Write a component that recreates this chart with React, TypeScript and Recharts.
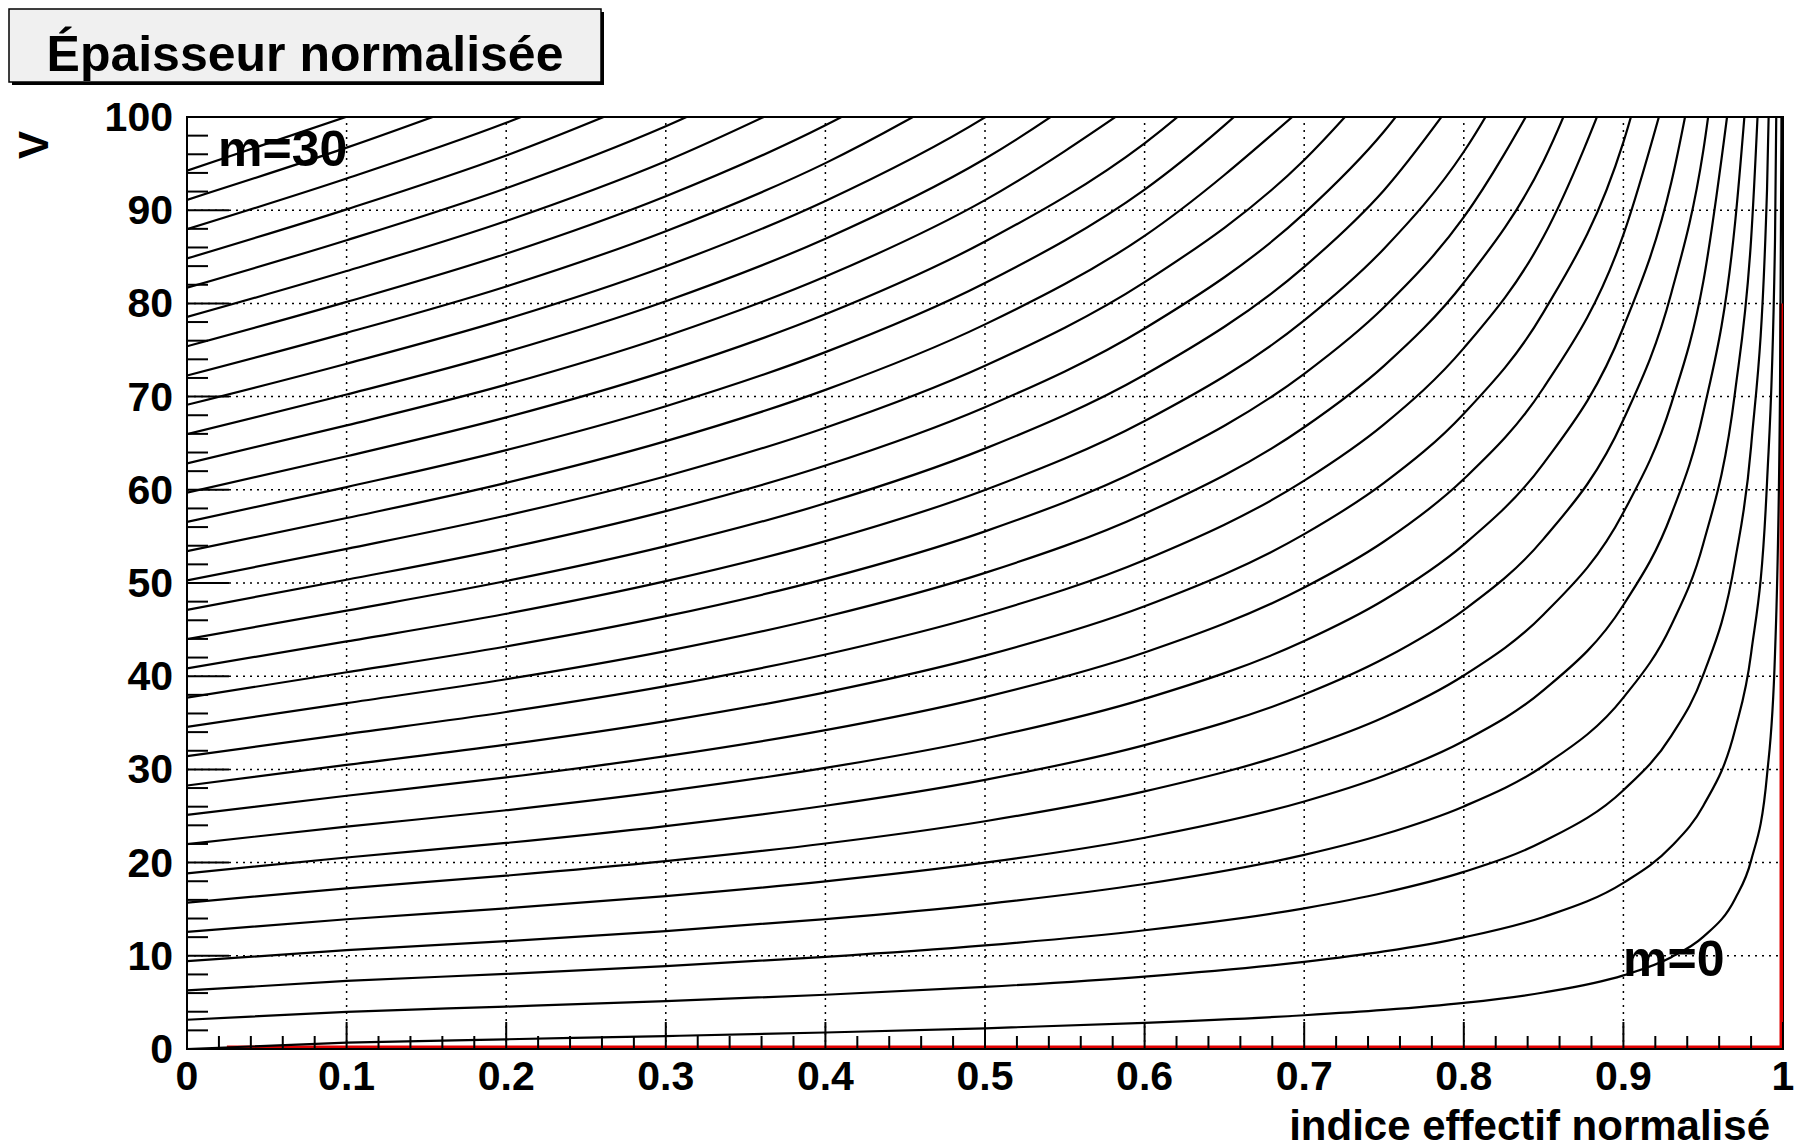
import React from "react";
import { LineChart, Line, XAxis, YAxis, ReferenceLine, ReferenceArea } from "recharts";

// normalized effective index b (x) sampled for every mode curve
const B_VALUES = [0, 0.1, 0.2, 0.3, 0.4, 0.5, 0.6, 0.7, 0.75, 0.8, 0.85, 0.9, 0.93, 0.95, 0.97, 0.98, 0.99, 0.995, 0.998, 0.999, 0.9995];

// normalized thickness V for modes m = 0 .. 30, read along B_VALUES (rows stop once past the top)
const MODE_V: number[][] = [
  [0, 0.68, 1.04, 1.39, 1.77, 2.22, 2.8, 3.62, 4.19, 4.95, 6.06, 7.9, 9.85, 12.03, 16.13, 20.21, 29.41, 42.43, 68.25, 97.35, 138.5],
  [3.14, 3.99, 4.55, 5.14, 5.82, 6.66, 7.77, 9.35, 10.47, 11.98, 14.17, 17.83, 21.72, 26.08, 34.27, 42.42, 60.83, 86.86, 138.49],
  [6.28, 7.3, 8.06, 8.9, 9.88, 11.11, 12.74, 15.09, 16.76, 19.0, 22.28, 27.77, 33.6, 40.13, 52.4, 64.64, 92.24, 131.29],
  [9.42, 10.61, 11.57, 12.65, 13.94, 15.55, 17.7, 20.83, 23.04, 26.03, 30.39, 37.7, 45.47, 54.18, 70.54, 86.85, 123.66],
  [12.57, 13.92, 15.09, 16.41, 17.99, 19.99, 22.67, 26.56, 29.32, 33.05, 38.5, 47.64, 57.35, 68.23, 88.68, 109.07],
  [15.71, 17.24, 18.6, 20.16, 22.05, 24.44, 27.64, 32.3, 35.6, 40.08, 46.62, 57.57, 69.22, 82.28, 106.82],
  [18.85, 20.55, 22.11, 23.92, 26.1, 28.88, 32.61, 38.03, 41.89, 47.1, 54.73, 67.51, 81.09, 96.33, 124.96],
  [21.99, 23.86, 25.62, 27.67, 30.16, 33.32, 37.57, 43.77, 48.17, 54.12, 62.84, 77.44, 92.97, 110.38],
  [25.13, 27.17, 29.14, 31.42, 34.21, 37.76, 42.54, 49.51, 54.45, 61.15, 70.95, 87.38, 104.84],
  [28.27, 30.48, 32.65, 35.18, 38.27, 42.21, 47.51, 55.24, 60.74, 68.17, 79.06, 97.31, 116.72],
  [31.42, 33.79, 36.16, 38.93, 42.33, 46.65, 52.47, 60.98, 67.02, 75.2, 87.17, 107.25],
  [34.56, 37.11, 39.67, 42.69, 46.38, 51.09, 57.44, 66.71, 73.3, 82.22, 95.29, 117.18],
  [37.7, 40.42, 43.19, 46.44, 50.44, 55.54, 62.41, 72.45, 79.59, 89.25, 103.4],
  [40.84, 43.73, 46.7, 50.2, 54.49, 59.98, 67.38, 78.18, 85.87, 96.27, 111.51],
  [43.98, 47.04, 50.21, 53.95, 58.55, 64.42, 72.34, 83.92, 92.15, 103.3],
  [47.12, 50.35, 53.72, 57.71, 62.6, 68.86, 77.31, 89.66, 98.44, 110.32],
  [50.27, 53.66, 57.24, 61.46, 66.66, 73.31, 82.28, 95.39, 104.72],
  [53.41, 56.97, 60.75, 65.22, 70.72, 77.75, 87.25, 101.13],
  [56.55, 60.29, 64.26, 68.97, 74.77, 82.19, 92.21, 106.86],
  [59.69, 63.6, 67.77, 72.73, 78.83, 86.64, 97.18, 112.6],
  [62.83, 66.91, 71.28, 76.48, 82.88, 91.08, 102.15],
  [65.97, 70.22, 74.8, 80.24, 86.94, 95.52, 107.12],
  [69.12, 73.53, 78.31, 83.99, 90.99, 99.96, 112.08],
  [72.26, 76.84, 81.82, 87.75, 95.05, 104.41],
  [75.4, 80.16, 85.33, 91.5, 99.11, 108.85],
  [78.54, 83.47, 88.85, 95.26, 103.16],
  [81.68, 86.78, 92.36, 99.01, 107.22],
  [84.82, 90.09, 95.87, 102.77],
  [87.96, 93.4, 99.38, 106.52],
  [91.11, 96.71, 102.9],
  [94.25, 100.03],
];

// red reference trace along the bottom and right edges
const RED_B = [0.025, 1, 1];
const RED_V = [0, 0, 80];

const X_MAJOR = [0, 0.1, 0.2, 0.3, 0.4, 0.5, 0.6, 0.7, 0.8, 0.9, 1];
const X_LABELS = ["0", "0.1", "0.2", "0.3", "0.4", "0.5", "0.6", "0.7", "0.8", "0.9", "1"];
const Y_MAJOR = [0, 10, 20, 30, 40, 50, 60, 70, 80, 90, 100];
const Y_LABELS = ["0", "10", "20", "30", "40", "50", "60", "70", "80", "90", "100"];

const W = 1801;
const H = 1148;
const PLOT_LEFT = 187;
const PLOT_TOP = 117;
const PLOT_RIGHT = 1783;
const PLOT_BOTTOM = 1049;
const FONT = "'Liberation Sans', Arial, Helvetica, sans-serif";

const xTicks = Array.from({ length: 51 }, (_, i) => i / 50);
const yTicks = Array.from({ length: 51 }, (_, i) => i * 2);

const curves = MODE_V.map((row) => row.map((v, i) => ({ b: B_VALUES[i], v })));
const redLine = RED_B.map((b, i) => ({ b, v: RED_V[i] }));

function XTick(props: any) {
  const { x, payload } = props;
  const val = payload.value as number;
  const idx = X_MAJOR.findIndex((m) => Math.abs(m - val) < 1e-6);
  const len = idx >= 0 ? 27 : 13;
  return (
    <g>
      <line x1={x} x2={x} y1={PLOT_BOTTOM} y2={PLOT_BOTTOM - len} stroke="#000" strokeWidth={2} />
      {idx >= 0 && (
        <text x={x} y={PLOT_BOTTOM + 27} textAnchor="middle" dominantBaseline="central" fontFamily={FONT} fontWeight="bold" fontSize={41} fill="#000">
          {X_LABELS[idx]}
        </text>
      )}
    </g>
  );
}

function YTick(props: any) {
  const { y, payload } = props;
  const val = payload.value as number;
  const idx = Y_MAJOR.indexOf(val);
  const len = idx >= 0 ? 42 : 21;
  return (
    <g>
      <line x1={PLOT_LEFT} x2={PLOT_LEFT + len} y1={y} y2={y} stroke="#000" strokeWidth={2} />
      {idx >= 0 && (
        <text x={PLOT_LEFT - 14} y={y} textAnchor="end" dominantBaseline="central" fontFamily={FONT} fontWeight="bold" fontSize={41} fill="#000">
          {Y_LABELS[idx]}
        </text>
      )}
    </g>
  );
}

export default function App() {
  return (
    <div style={{ position: "absolute", left: 0, top: 0, width: W, height: H, background: "#fff" }}>
      <LineChart
        width={W}
        height={H}
        margin={{ top: PLOT_TOP, right: W - PLOT_RIGHT, bottom: H - PLOT_BOTTOM - 1, left: PLOT_LEFT - 1 }}
      >
        <XAxis
          type="number"
          dataKey="b"
          domain={[0, 1]}
          ticks={xTicks}
          interval={0}
          tickSize={0}
          height={1}
          tick={(p: any) => <XTick {...p} />}
          axisLine={{ stroke: "#000", strokeWidth: 2 }}
          allowDataOverflow
        />
        <YAxis
          type="number"
          dataKey="v"
          domain={[0, 100]}
          ticks={yTicks}
          interval={0}
          tickSize={0}
          width={1}
          tick={(p: any) => <YTick {...p} />}
          axisLine={{ stroke: "#000", strokeWidth: 2 }}
          allowDataOverflow
        />
        {Y_MAJOR.slice(1, -1).map((v) => (
          <ReferenceLine key={"gy" + v} y={v} stroke="#000" strokeWidth={1.5} strokeDasharray="2 5" />
        ))}
        {X_MAJOR.slice(1, -1).map((b) => (
          <ReferenceLine key={"gx" + b} x={b} stroke="#000" strokeWidth={1.5} strokeDasharray="2 5" />
        ))}
        <Line
          data={redLine}
          dataKey="v"
          type="linear"
          stroke="#e00000"
          strokeWidth={7}
          dot={false}
          activeDot={false}
          isAnimationActive={false}
        />
        {curves.map((data, m) => (
          <Line
            key={"m" + m}
            data={data}
            dataKey="v"
            type="monotone"
            stroke="#000"
            strokeWidth={2.2}
            dot={false}
            activeDot={false}
            isAnimationActive={false}
          />
        ))}
        <ReferenceArea x1={0} x2={1} y1={0} y2={100} fill="none" fillOpacity={0} stroke="#000" strokeWidth={2} />
      </LineChart>

      <svg width={W} height={H} style={{ position: "absolute", left: 0, top: 0, pointerEvents: "none" }}>
        <rect x={12} y={12} width={592} height={73} fill="#000" />
        <rect x={9} y={9} width={592} height={73} fill="#f0f0f0" stroke="#000" strokeWidth={1.5} />
        <text x={305} y={71} textAnchor="middle" fontFamily={FONT} fontWeight="bold" fontSize={50} fill="#000">
          Épaisseur normalisée
        </text>
        <text
          x={0}
          y={0}
          transform="translate(48 145) rotate(-90)"
          textAnchor="middle"
          fontFamily={FONT}
          fontWeight="bold"
          fontSize={42}
          fill="#000"
        >
          V
        </text>
        <text x={1770} y={1140} textAnchor="end" fontFamily={FONT} fontWeight="bold" fontSize={42} fill="#000">
          indice effectif normalisé
        </text>
        <text x={218} y={166} fontFamily={FONT} fontWeight="bold" fontSize={50} fill="#000">
          m=30
        </text>
        <text x={1623} y={976} fontFamily={FONT} fontWeight="bold" fontSize={50} fill="#000">
          m=0
        </text>
      </svg>
    </div>
  );
}
